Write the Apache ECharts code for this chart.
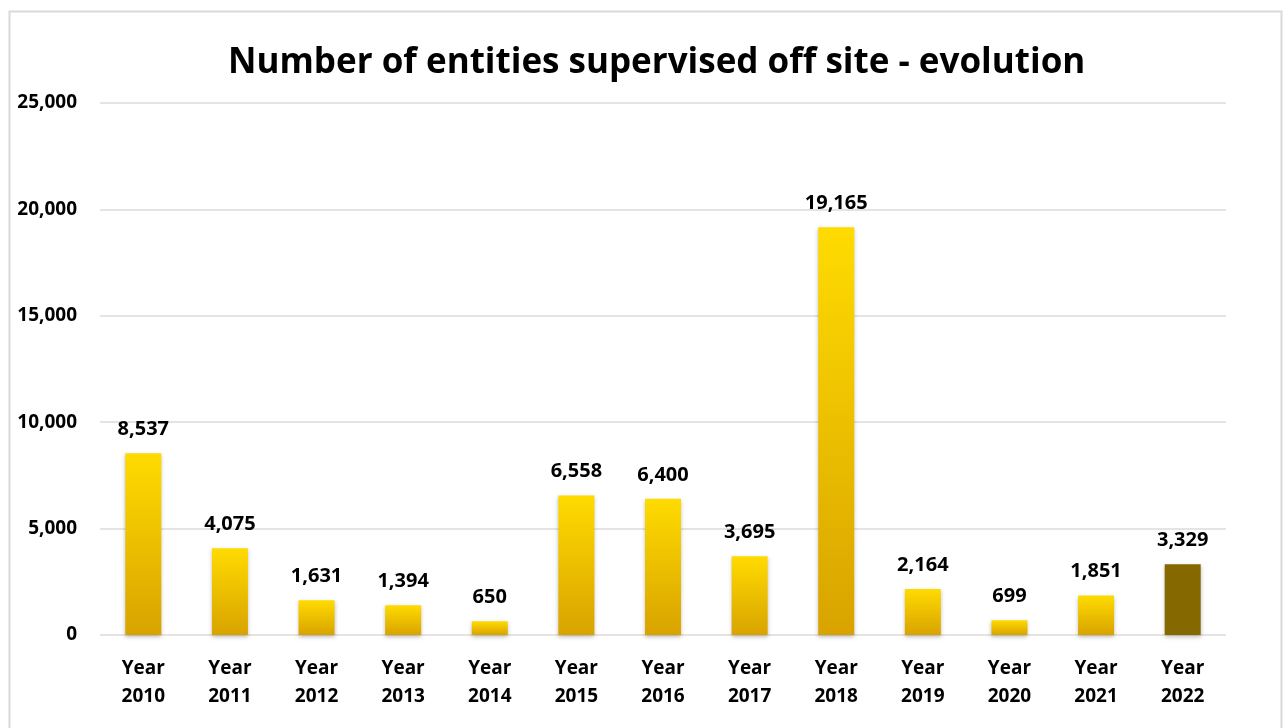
<!DOCTYPE html>
<html>
<head>
<meta charset="utf-8">
<script src="https://cdn.jsdelivr.net/npm/echarts@6/dist/echarts.min.js"></script>
<style>
  html, body { margin: 0; padding: 0; background: #fff; }
  #chart { width: 1284px; height: 728px; }
</style>
</head>
<body>
<div id="chart"></div>
<script>
// Off-site supervision counts per year
const categories = ['Year\n2010', 'Year\n2011', 'Year\n2012', 'Year\n2013', 'Year\n2014', 'Year\n2015', 'Year\n2016',
  'Year\n2017', 'Year\n2018', 'Year\n2019', 'Year\n2020', 'Year\n2021', 'Year\n2022'];
const entities = [8537, 4075, 1631, 1394, 650, 6558, 6400, 3695, 19165, 2164, 699, 1851, 3329];
const highlightIndex = 12; // latest year drawn in a darker tone

const FONT = '"Open Sans", "Noto Sans", sans-serif';

const goldGradient = new echarts.graphic.LinearGradient(0, 0, 0, 1, [
  { offset: 0, color: '#FFDB00' },
  { offset: 1, color: '#D8A300' }
]);

const barData = entities.map((v, i) => ({
  value: v,
  itemStyle: i === highlightIndex ? { color: '#856800' } : { color: goldGradient }
}));

const chart = echarts.init(document.getElementById('chart'));
chart.setOption({
  animation: false,
  backgroundColor: '#fff',
  graphic: [{
    type: 'rect',
    left: 7, top: 9,
    shape: { width: 1272, height: 730 },
    style: { fill: 'none', stroke: '#DCD8D4', lineWidth: 2 },
    silent: true
  }],
  title: {
    text: 'Number of entities supervised off site - evolution',
    left: 223,
    top: 41,
    textStyle: { fontFamily: FONT, fontSize: 35, fontWeight: 'bold', color: '#000' }
  },
  grid: { left: 100, right: 58, top: 103, bottom: 93 },
  xAxis: {
    type: 'category',
    data: categories,
    axisLine: { show: false },
    axisTick: { show: false },
    axisLabel: {
      margin: 20, fontFamily: FONT, fontSize: 19, fontWeight: 'bold', color: '#000', lineHeight: 28
    }
  },
  yAxis: {
    type: 'value',
    min: 0, max: 25000, interval: 5000,
    axisLine: { show: false },
    axisTick: { show: false },
    splitLine: { lineStyle: { color: '#DEDAD6', width: 1.5 } },
    axisLabel: {
      margin: 23, fontFamily: FONT, fontSize: 19, fontWeight: 'bold', color: '#000',
      formatter: v => v.toLocaleString('en-US')
    }
  },
  series: [{
    type: 'bar',
    data: barData,
    barWidth: 36,
    itemStyle: {
      shadowColor: 'rgba(0,0,0,0.25)', shadowBlur: 4, shadowOffsetY: 2
    },
    label: {
      show: true, position: 'top', distance: 14,
      fontFamily: FONT, fontSize: 20, fontWeight: 'bold', color: '#000',
      formatter: p => p.value.toLocaleString('en-US')
    }
  }]
});
</script>
</body>
</html>
